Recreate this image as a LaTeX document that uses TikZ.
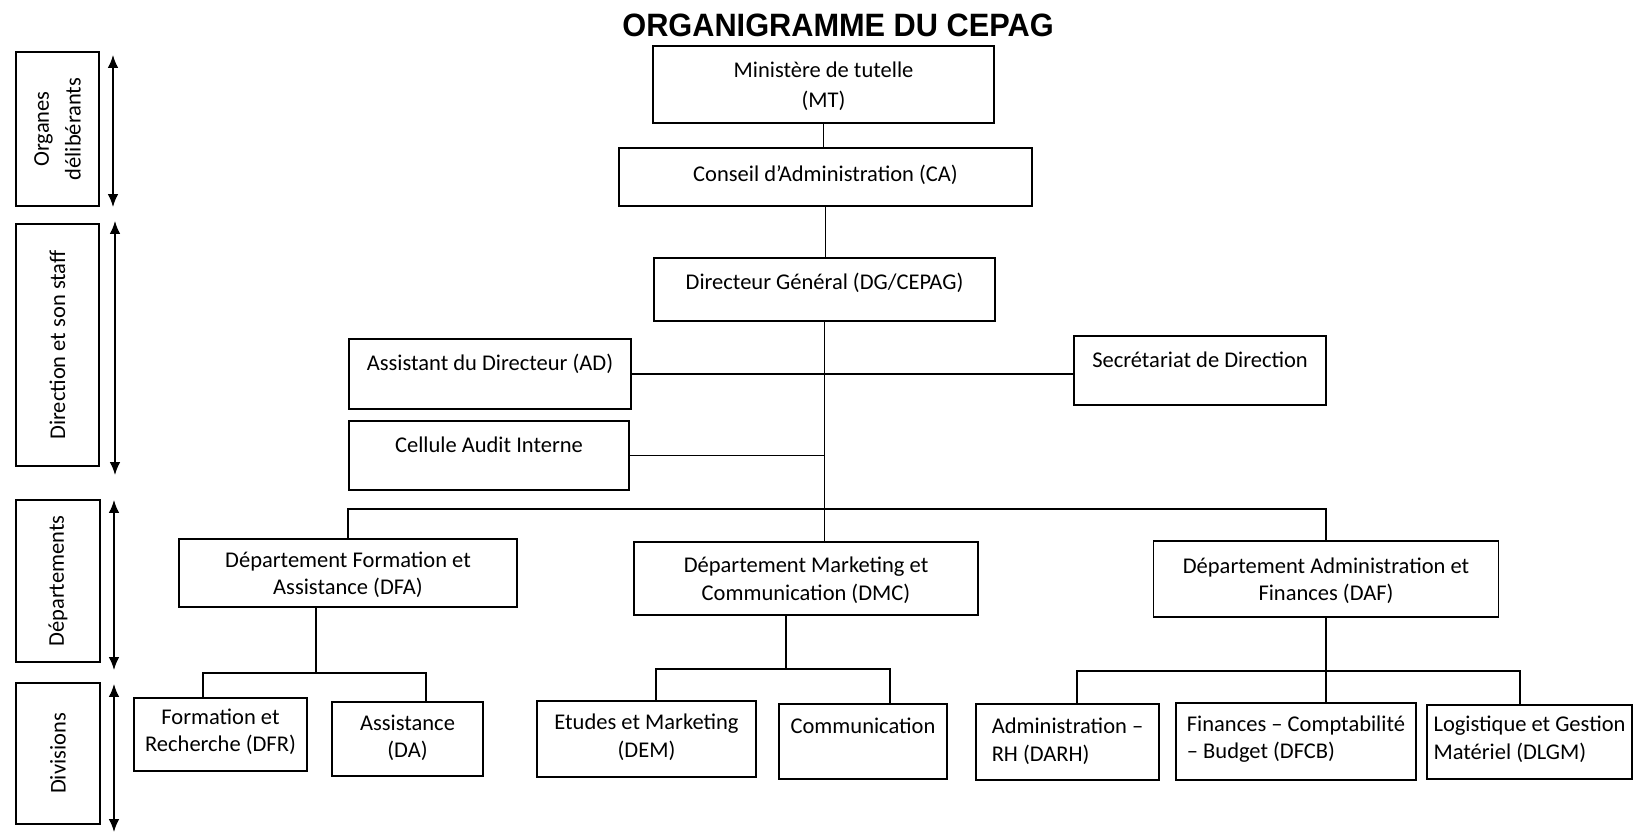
\documentclass[tikz,border=0pt]{standalone}
\usepackage{fontspec}
\setmainfont{Carlito}
\newfontfamily\titlefont[FakeStretch=0.95]{Liberation Sans}
\usetikzlibrary{arrows.meta,positioning}
\tikzset{
    boxfont/.style={font=\fontsize{16}{19.5}\selectfont},
    orgbox/.style={draw, line width=1.3pt, align=center, boxfont, inner sep=2pt},
    wh/.style 2 args={minimum width=#1*0.025cm, minimum height=#2*0.025cm},
    lift/.style={text depth=#1pt},
    sidebox/.style={rotate=90, align=center, boxfont, draw, line width=1.3pt},
    titletext/.style={font=\titlefont\bfseries\fontsize{23}{27}\selectfont},
    link/.style={line width=1.1pt},
    span/.style={{Latex[length=0.32cm,width=0.26cm]}-{Latex[length=0.32cm,width=0.26cm]}, line width=1pt}
}
\begin{document}
\begin{tikzpicture}[x=0.025cm, y=-0.025cm]
    \useasboundingbox (0,0) rectangle (1635,833);
    % titre
    \node[titletext, anchor=base] (title) at (838,37) {ORGANIGRAMME DU CEPAG};
    % niveaux
    \node[sidebox, wh={154}{83}] (organes) at (57.5,129) {Organes\\[3pt]délibérants};
    \node[sidebox, wh={242}{83}] (direction) at (57.5,345) {Direction et son staff};
    \node[sidebox, wh={162}{84}] (departements) at (58,581) {Départements};
    \node[sidebox, wh={141}{84}] (divisions) at (58,753.5) {Divisions};
    \draw[span] (113,55) -- (113,207);
    \draw[span] (115,221) -- (115,475);
    \draw[span] (114,500) -- (114,670);
    \draw[span] (114,684) -- (114,832);
    % direction
    \node[orgbox, wh={341}{77}, lift=0] (mt) at (823.5,84.5) {Ministère de tutelle\\[2pt](MT)};
    \node[orgbox, wh={413}{58}, lift=5] (ca) at (825.5,177) {Conseil d’Administration (CA)};
    \node[orgbox, wh={341}{63}, lift=12] (dg) at (824.5,289.5) {Directeur Général (DG/CEPAG)};
    \node[orgbox, wh={282}{70}, lift=16] (ad) at (490,374) {Assistant du Directeur (AD)};
    \node[orgbox, wh={252}{69}, lift=15] (sd) at (1200,370.5) {Secrétariat de Direction};
    \node[orgbox, wh={280}{69}, lift=16] (cai) at (489,455.5) {Cellule Audit Interne};
    % departements
    \node[orgbox, wh={338}{68}, lift=0] (dfa) at (348,573) {Département Formation et\\Assistance (DFA)};
    \node[orgbox, wh={344}{73}, lift=0] (dmc) at (806,578.5) {Département Marketing et\\Communication (DMC)};
    \node[orgbox, wh={345}{76}, lift=0] (daf) at (1326,579) {Département Administration et\\Finances (DAF)};
    % divisions
    \node[orgbox, wh={173}{73}, lift=6] (dfr) at (220.5,734.5) {Formation et\\Recherche (DFR)};
    \node[orgbox, wh={151}{74}, lift=4] (da) at (407.5,739) {Assistance\\(DA)};
    \node[orgbox, wh={219}{76}, lift=5] (dem) at (646.5,739) {Etudes et Marketing\\(DEM)};
    \node[orgbox, wh={168}{75}, lift=23] (com) at (863,741.5) {Communication};
    \node[orgbox, wh={183}{76}, lift=3, align=left] (adm) at (1067.5,742) {Administration –\\RH (DARH)};
    \node[orgbox, wh={240}{77}, lift=6, align=left] (fin) at (1296,741.5) {Finances – Comptabilité\\– Budget (DFCB)};
    \node[orgbox, wh={205}{74}, lift=6, align=left] (log) at (1529.5,742) {Logistique et Gestion\\Matériel (DLGM)};
    % liaisons
    \draw[link] (mt.south) -- (mt.south |- ca.north);
    \draw[link] (ca.south) -- (ca.south |- dg.north);
    \draw[link] (dg.south) -- (dg.south |- dmc.north);
    \draw[link] (ad.east) -- (ad.east -| sd.west);
    \draw[link] (cai.east) -- (cai.east -| dg.south);
    \coordinate (depbus) at (824.5,509);
    \draw[link] (dfa.north) |- (depbus) -| (daf.north);
    \coordinate (dfabus) at (316,673);
    \draw[link] (dfabus |- dfa.south) -- (dfabus);
    \draw[link] (dfr.north -| 203,0) |- (dfabus) -| (da.north -| 426,0);
    \coordinate (dmcbus) at (786,669);
    \draw[link] (dmcbus |- dmc.south) -- (dmcbus);
    \draw[link] (dem.north -| 656,0) |- (dmcbus) -| (com.north -| 890,0);
    \coordinate (dafbus) at (1326,671);
    \draw[link] (daf.south) -- (dafbus) -- (dafbus |- fin.north);
    \draw[link] (adm.north -| 1077,0) |- (dafbus) -| (log.north -| 1520,0);
\end{tikzpicture}
\end{document}
